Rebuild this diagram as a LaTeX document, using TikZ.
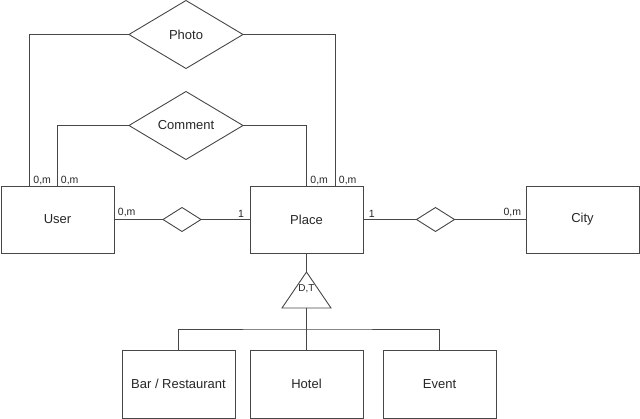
\documentclass[tikz,border=0pt]{standalone}
\usepackage{fontspec}
\setmainfont{Liberation Sans}
\usetikzlibrary{positioning,shapes.geometric}
\colorlet{linecol}{black!72}
\colorlet{textcol}{black!85}

\begin{document}
\begin{tikzpicture}[
    x=1pt, y=-1pt,
    entity/.style={draw=linecol,line width=.9pt,minimum width=113pt,
      minimum height=67pt,inner sep=0pt,outer sep=0pt,text=textcol,
      font=\fontsize{13}{15}\selectfont},
    relation/.style={diamond,draw=linecol,line width=.9pt,minimum width=114pt,
      minimum height=68pt,inner sep=0pt,outer sep=0pt,text=textcol,
      font=\fontsize{13}{15}\selectfont},
    link/.style={diamond,draw=linecol,line width=.9pt,minimum width=38pt,
      minimum height=24pt,inner sep=0pt,outer sep=0pt},
    conn/.style={draw=linecol,line width=.9pt},
    card/.style={text=textcol,inner sep=1pt,font=\fontsize{10.5}{12}\selectfont}
  ]
    \useasboundingbox (0,0) rectangle (640,419);
    \node[entity] (user) at (57.5,219.5) {User};
    \node[entity,right=136pt of user] (place) {Place};
    \node[entity,right=163pt of place] (city) {City};
    \node[entity,below=97pt of place,minimum height=68pt] (hotel) {Hotel};
    \node[entity,left=15pt of hotel,minimum height=68pt] (bar) {Bar / Restaurant};
    \node[entity,right=20pt of hotel,minimum height=68pt] (event) {Event};
    \node[relation] (photo) at (186,34.5) {Photo};
    \node[relation] (comment) at (186,125.5) {Comment};
    \node[link] (userplace) at (182,219.5) {};
    \node[link] (placecity) at (435.5,219.5) {};

    \draw[conn] (photo.west) -| ([xshift=28.5pt]user.north west)
      node[card,pos=1,anchor=south west,xshift=2.5pt] (cphotou) {0,m};
    \draw[conn] (photo.east) -| ([xshift=-28pt]place.north east)
      node[card,pos=1,anchor=south west,xshift=2.5pt] (cphotop) {0,m};
    \draw[conn] (comment.west) -| ([xshift=56pt]user.north west)
      node[card,pos=1,anchor=south west,xshift=2.5pt] (ccommu) {0,m};
    \draw[conn] (comment.east) -| (place.north)
      node[card,pos=1,anchor=south west,xshift=2.5pt] (ccommp) {0,m};

    \draw[conn] (user.east) -- (userplace.west)
      node[card,pos=0,anchor=south west,xshift=2.5pt,yshift=1pt] (cuser) {0,m};
    \draw[conn] (userplace.east) -- (place.west)
      node[card,pos=1,anchor=south east,xshift=-4.5pt,yshift=1pt] (cplace1) {1};
    \draw[conn] (place.east) -- (placecity.west)
      node[card,pos=0,anchor=south west,xshift=4.5pt,yshift=1pt] (cplace2) {1};
    \draw[conn] (placecity.east) -- (city.west)
      node[card,pos=1,anchor=south east,xshift=-3.5pt,yshift=1pt] (ccity) {0,m};

    \coordinate[below=19pt of place.south] (isatop);
    \coordinate[below=36pt of isatop] (isabase);
    \coordinate[below=21pt of isabase] (split);
    \draw[conn,line join=miter] (isatop) -- ++(-24.5,36) -- ++(49,0) -- cycle;
    \node[text=textcol,inner sep=0pt,font=\fontsize{10}{12}\selectfont,
      below=12pt of isatop] (isa) {D,T};
    \draw[conn] (place.south) -- (isatop);
    \draw[conn,line width=1.2pt] (isabase) -- (split);
    \draw[conn] (bar.north) |- (split) -| (event.north);
    \draw[conn] (hotel.north) -- (split);
  \end{tikzpicture}
\end{document}
